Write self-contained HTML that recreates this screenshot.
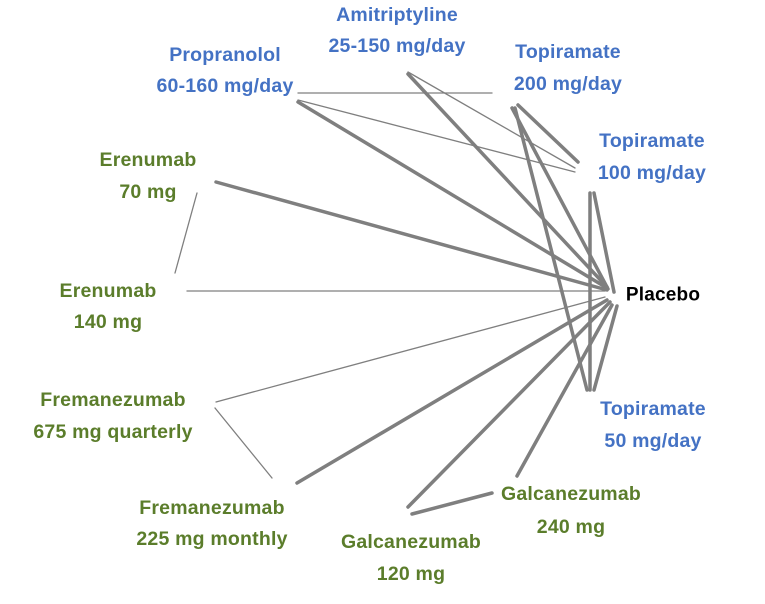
<!DOCTYPE html>
<html><head><style>html,body{margin:0;padding:0;background:#fff}svg{display:block}</style></head>
<body>
<svg width="765" height="604" viewBox="0 0 765 604" xmlns="http://www.w3.org/2000/svg">
<g stroke="#7f7f7f" stroke-linecap="round" fill="none">
<g stroke-width="1.3">
<line x1="298" y1="93" x2="492" y2="93"/>
<line x1="298" y1="100" x2="575" y2="172"/>
<line x1="408" y1="72" x2="575" y2="168"/>
<line x1="197" y1="193" x2="175" y2="273"/>
<line x1="187" y1="291" x2="605" y2="291"/>
<line x1="216" y1="402" x2="605" y2="297"/>
<line x1="215" y1="408" x2="272" y2="478"/>
</g>
<g stroke-width="3.5">
<line x1="298" y1="102" x2="607" y2="288"/>
<line x1="408" y1="74" x2="607" y2="287"/>
<line x1="518" y1="105" x2="578" y2="162"/>
<line x1="512" y1="108" x2="608" y2="289"/>
<line x1="515" y1="108" x2="587" y2="390"/>
<line x1="590" y1="193" x2="590" y2="390"/>
<line x1="594" y1="193" x2="614" y2="292"/>
<line x1="216" y1="182" x2="607" y2="290"/>
<line x1="297" y1="483" x2="607" y2="300"/>
<line x1="408" y1="507" x2="610" y2="302"/>
<line x1="517" y1="476" x2="612" y2="305"/>
<line x1="412" y1="514" x2="492" y2="493"/>
<line x1="594" y1="390" x2="617" y2="306"/>
</g>
</g>
<g font-family="Liberation Sans, sans-serif" font-size="19.5" font-weight="bold" letter-spacing="0.2" text-anchor="middle" dominant-baseline="central">
<g fill="#4472c4">
<text x="397" y="15">Amitriptyline</text><text x="397" y="46">25-150 mg/day</text>
<text x="225" y="55">Propranolol</text><text x="225" y="86">60-160 mg/day</text>
<text x="568" y="52">Topiramate</text><text x="568" y="84">200 mg/day</text>
<text x="652" y="141">Topiramate</text><text x="652" y="173">100 mg/day</text>
<text x="653" y="409">Topiramate</text><text x="653" y="441">50 mg/day</text>
</g>
<g fill="#5b7d2b">
<text x="148" y="160">Erenumab</text><text x="148" y="192">70 mg</text>
<text x="108" y="291">Erenumab</text><text x="108" y="322">140 mg</text>
<text x="113" y="400">Fremanezumab</text><text x="113" y="432">675 mg quarterly</text>
<text x="212" y="508">Fremanezumab</text><text x="212" y="539">225 mg monthly</text>
<text x="411" y="542">Galcanezumab</text><text x="411" y="574">120 mg</text>
<text x="571" y="494">Galcanezumab</text><text x="571" y="527">240 mg</text>
</g>
<text x="663" y="295" fill="#000" font-size="19" font-weight="bold">Placebo</text>
</g>
</svg>
</body></html>
